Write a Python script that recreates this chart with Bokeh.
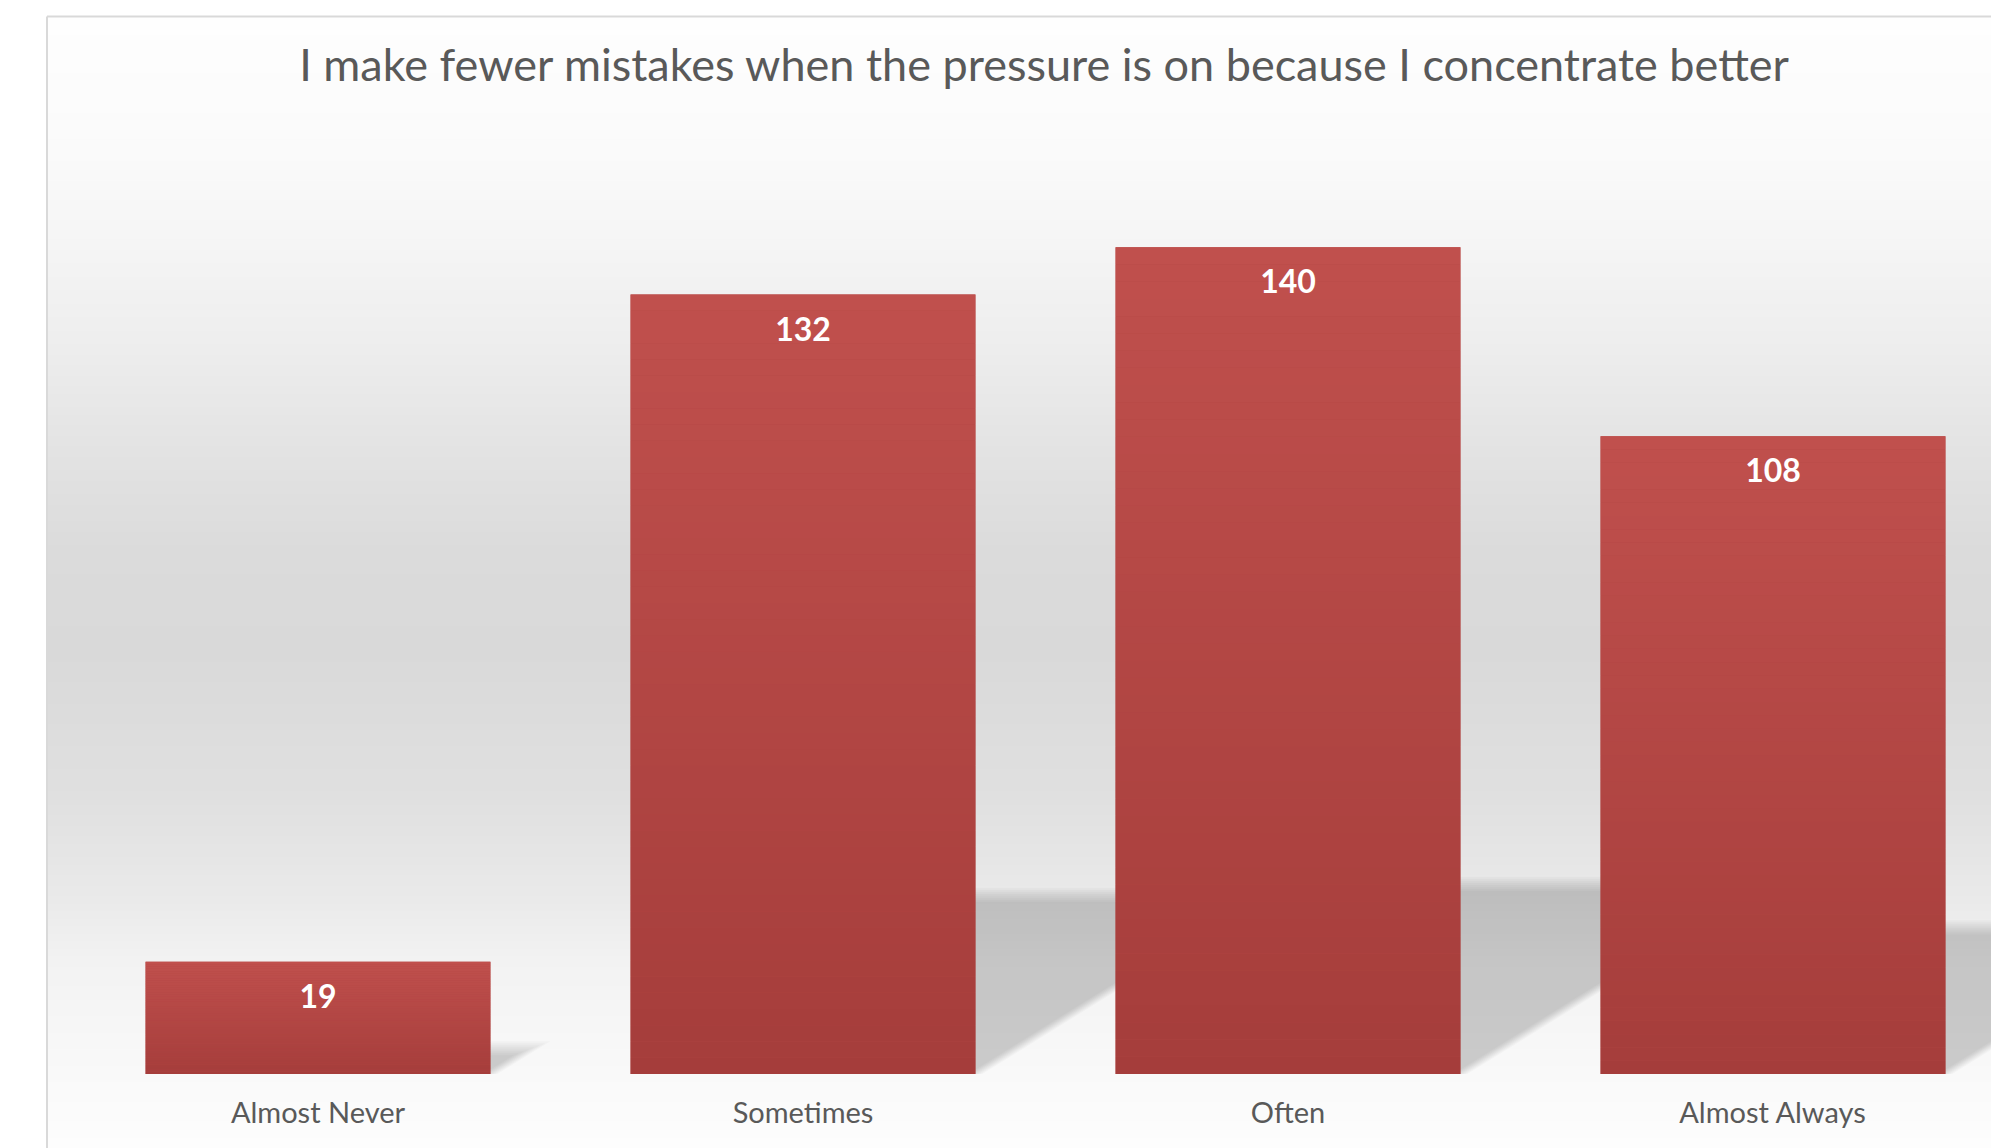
from bokeh.plotting import figure
from bokeh.models import Range1d
from bokeh.core.properties import value
from bokeh.embed import file_html
from bokeh.resources import INLINE

# --- survey data -----------------------------------------------------------
title_text = "I make fewer mistakes when the pressure is on because I concentrate better"
categories = ["Almost Never", "Sometimes", "Often", "Almost Always"]
counts = [19, 132, 140, 108]

# --- layout (canvas pixels) -------------------------------------------------
W, H = 1991, 1148
PX_PER_CAT = 485.0        # distance between category centres
FIRST_CENTER_PX = 317.5   # x of the first category centre
BASE_PX = 1073.5          # y (from top) of the value axis zero
PX_PER_UNIT = 5.905       # vertical pixels per response
BAR_WIDTH = 0.711
FRAME_LEFT_PX, FRAME_TOP_PX = 46.5, 16.0

x0 = -FIRST_CENTER_PX / PX_PER_CAT
x1 = (W - FIRST_CENTER_PX) / PX_PER_CAT
y1 = BASE_PX / PX_PER_UNIT
y0 = -(H - BASE_PX) / PX_PER_UNIT


def px_x(px):
    return x0 + px / PX_PER_CAT


def px_y(py):
    return y1 - py / PX_PER_UNIT


def mix(c1, c2, t):
    return "#%02x%02x%02x" % tuple(int(round(a + (b - a) * t)) for a, b in zip(c1, c2))


def gray_at(py, stops):
    for (pa, ga), (pb, gb) in zip(stops, stops[1:]):
        if pa <= py <= pb:
            t = (py - pa) / (pb - pa)
            g = int(round(ga + (gb - ga) * t))
            return "#%02x%02x%02x" % (g, g, g)
    g = stops[-1][1]
    return "#%02x%02x%02x" % (g, g, g)


p = figure(width=W, height=H, x_range=Range1d(x0, x1), y_range=Range1d(y0, y1),
           output_backend="svg", toolbar_location=None, min_border=0,
           x_axis_type=None, y_axis_type=None)
p.grid.visible = False
p.outline_line_color = None
p.background_fill_color = "white"
p.border_fill_color = "white"

# chart-area background: soft vertical grey gradient
bg_stops = [(16, 254), (130, 251), (230, 246), (350, 237), (450, 227), (550, 219),
            (650, 217), (800, 224), (900, 234), (960, 242), (1073, 249), (1148, 253)]
step = 3
tops, bottoms, colors = [], [], []
py = FRAME_TOP_PX
while py < H:
    tops.append(px_y(py))
    bottoms.append(px_y(min(py + step + 1, H)))
    colors.append(gray_at(py + step / 2, bg_stops))
    py += step
p.quad(left=px_x(FRAME_LEFT_PX), right=x1, top=tops, bottom=bottoms,
       fill_color=colors, line_color=None)

# chart-area border
p.line([px_x(FRAME_LEFT_PX), px_x(FRAME_LEFT_PX)], [px_y(FRAME_TOP_PX), y0],
       line_color="#d9d9d9", line_width=2)
p.line([px_x(FRAME_LEFT_PX), x1], [px_y(FRAME_TOP_PX), px_y(FRAME_TOP_PX)],
       line_color="#d9d9d9", line_width=2)

# perspective shadows cast up and to the right of each bar
SHADOW_RATIO = 0.23
SHADOW_SLOPE = 0.62
half = BAR_WIDTH / 2
sx, sy = [], []
for i, v in enumerate(counts):
    h_px = v * SHADOW_RATIO * PX_PER_UNIT
    for d in (-7, -5, -3, -1, 1, 3, 5, 7):
        top_px = max(h_px + d, 1)
        off = (top_px / SHADOW_SLOPE) / PX_PER_CAT
        dx = d / PX_PER_CAT
        left, right = i - half, i + half + dx
        top = top_px / PX_PER_UNIT
        sx.append([left, right, right + off, left + off])
        sy.append([0, 0, top, top])
p.patches(sx, sy, fill_color="black", fill_alpha=0.025, line_color=None)

# bars: solid base, then a top-to-bottom red gradient laid over it
top_rgb, bot_rgb = (0xC0, 0x50, 0x4D), (0xA5, 0x3D, 0x3B)
xs = list(range(len(categories)))
p.vbar(x=xs, width=BAR_WIDTH, bottom=0, top=counts,
       fill_color=mix(bot_rgb, top_rgb, 0.5), line_color=None)
N = 48
bx, bb, bt, bc = [], [], [], []
for i, v in enumerate(counts):
    for k in range(N):
        bx.append(i)
        bb.append(v * k / N)
        bt.append(v * (k + 1) / N)
        bc.append(mix(bot_rgb, top_rgb, (k + 0.5) / N))
p.vbar(x=bx, width=BAR_WIDTH, bottom=bb, top=bt, fill_color=bc, line_color=None)

# value labels inside the top of each bar
p.text(x=xs, y=counts, text=[str(c) for c in counts], text_align="center",
       text_baseline="alphabetic", y_offset=34, text_color="white",
       text_font=value("Lato"), text_font_style="bold", text_font_size="32px")

# category labels under the axis
p.text(x=xs, y=[0] * len(xs), text=categories, text_align="center",
       text_baseline="alphabetic", y_offset=37, text_color="#595959",
       text_font=value("Lato"), text_font_size="29px")

# chart title
p.text(x=[px_x(1044.5)], y=[px_y(63)], text=[title_text], text_align="center",
       text_baseline="alphabetic", text_color="#595959",
       text_font=value("Lato"), text_font_size="45px")

open("out.html", "w").write(file_html(p, INLINE))
